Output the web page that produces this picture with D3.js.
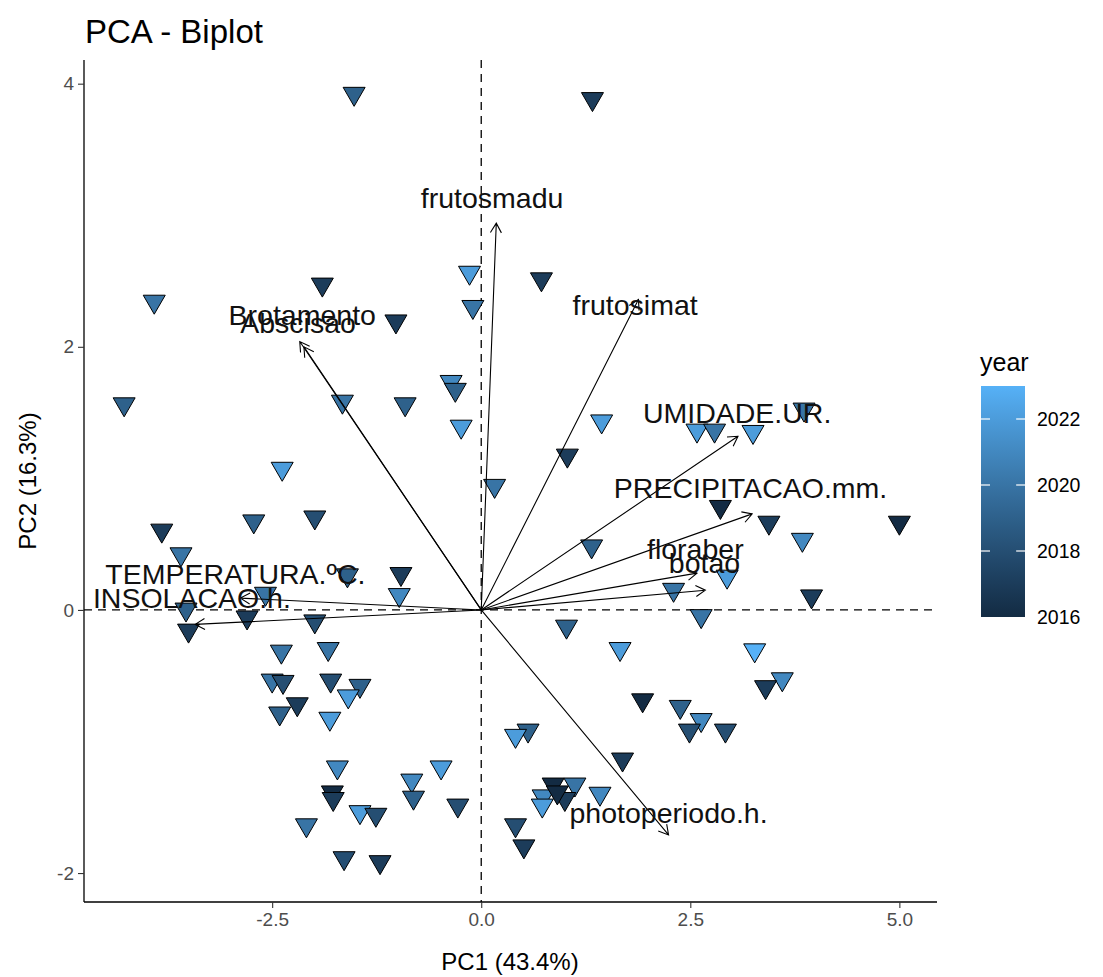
<!DOCTYPE html>
<html>
<head>
<meta charset="utf-8">
<script src="https://cdn.jsdelivr.net/npm/d3@7"></script>
<style>
  body { margin: 0; background: #fff; }
  svg { font-family: "Liberation Sans", Arial, sans-serif; }
</style>
</head>
<body>
<svg id="chart" width="1103" height="977"></svg>
<script>
// individuals: PC1, PC2 and year (colour)
const indPC1 = [-1.52, 1.33, -0.14, 0.72, -1.90, -3.91, -0.10, -1.02, -4.27, -1.66,
  -0.91, -0.36, -0.31, -0.24, 1.44, 1.03, 2.58, 2.79, 3.25, 3.86,
  0.16, -2.38, -3.82, -2.72, -1.99, 2.86, 3.44, 3.84, 5.00, 1.32,
  -3.59, -1.60, -0.96, -0.98, -2.58, -3.53, -3.50, -2.80, -1.99, 2.94,
  2.30, 3.95, 2.63, 1.02, 1.66, 3.27, 3.60, 3.40, -2.39, -1.83,
  -2.50, -2.37, -1.80, -1.45, -1.59, -2.20, -2.41, -1.81, 1.93, 2.38,
  2.63, 2.49, 2.92, 0.56, 0.41, 1.69, -1.72, -1.78, -1.77, -1.45,
  -1.26, -2.09, -0.83, -0.81, -0.48, -0.28, 0.86, 1.12, 0.74, 0.73,
  1.00, 0.91, 1.42, 0.41, 0.51, -1.64, -1.21];
const indPC2 = [3.90, 3.86, 2.54, 2.49, 2.45, 2.32, 2.28, 2.17, 1.54, 1.56,
  1.54, 1.71, 1.65, 1.37, 1.41, 1.15, 1.34, 1.34, 1.33, 1.50,
  0.92, 1.05, 0.58, 0.65, 0.68, 0.76, 0.64, 0.51, 0.64, 0.46,
  0.40, 0.24, 0.25, 0.09, 0.10, -0.02, -0.18, -0.08, -0.11, 0.23,
  0.13, 0.08, -0.07, -0.15, -0.32, -0.33, -0.55, -0.61, -0.34, -0.32,
  -0.56, -0.57, -0.56, -0.60, -0.68, -0.74, -0.81, -0.85, -0.71, -0.76,
  -0.86, -0.94, -0.94, -0.94, -0.98, -1.16, -1.22, -1.41, -1.46, -1.56,
  -1.58, -1.66, -1.32, -1.45, -1.22, -1.51, -1.35, -1.35, -1.44, -1.51,
  -1.46, -1.41, -1.42, -1.66, -1.82, -1.91, -1.94];
const indYear = [2019, 2017, 2022, 2017, 2017, 2020, 2020, 2017, 2019, 2020,
  2019, 2021, 2019, 2022, 2022, 2017, 2022, 2020, 2022, 2020,
  2020, 2022, 2017, 2019, 2018, 2016, 2017, 2021, 2016, 2019,
  2020, 2019, 2017, 2021, 2020, 2019, 2017, 2017, 2018, 2022,
  2020, 2017, 2020, 2019, 2022, 2023, 2021, 2017, 2020, 2020,
  2020, 2018, 2018, 2019, 2022, 2017, 2019, 2022, 2016, 2019,
  2021, 2018, 2018, 2019, 2022, 2017, 2021, 2016, 2017, 2022,
  2018, 2020, 2021, 2019, 2022, 2018, 2016, 2020, 2021, 2022,
  2017, 2016, 2021, 2018, 2017, 2018, 2017];

// variables: arrow ends and label positions
const varNames = ["frutosmadu", "frutosimat", "Brotamento", "Abscisao", "UMIDADE.UR.",
  "PRECIPITACAO.mm.", "floraber", "botao", "TEMPERATURA.ºC.", "INSOLACAO.h.", "photoperiodo.h."];
const varPC1 = [0.18, 1.88, -2.17, -2.12, 3.07, 3.24, 2.58, 2.68, -2.88, -3.42, 2.24];
const varPC2 = [2.94, 2.36, 2.04, 2.00, 1.32, 0.73, 0.28, 0.15, 0.09, -0.11, -1.71];
const labPC1 = [0.13, 1.84, -2.14, -2.19, 3.06, 3.22, 2.56, 2.67, -2.94, -3.46, 2.24];
const labPC2 = [3.13, 2.32, 2.24, 2.18, 1.50, 0.93, 0.46, 0.36, 0.27, 0.09, -1.54];

const xTicks = [-2.5, 0, 2.5, 5];
const yTicks = [-2, 0, 2, 4];
const legendTicks = [2016, 2018, 2020, 2022];

const svg = d3.select("#chart");
const x = d3.scaleLinear().domain([-4.75, 5.45]).range([84, 937]);
const y = d3.scaleLinear().domain([-2.22, 4.18]).range([902, 60]);
const color = d3.scaleLinear().domain([2016, 2023])
  .range(["#132B43", "#56B1F7"]).interpolate(d3.interpolateLab);

// title
svg.append("text").attr("x", 85).attr("y", 43)
  .attr("font-size", 33).attr("fill", "#000").text("PCA - Biplot");

// reference dashed lines
svg.append("line").attr("x1", x(0)).attr("x2", x(0)).attr("y1", 60).attr("y2", 902)
  .attr("stroke", "#000").attr("stroke-width", 1.3).attr("stroke-dasharray", "8,6");
svg.append("line").attr("x1", 84).attr("x2", 937).attr("y1", y(0)).attr("y2", y(0))
  .attr("stroke", "#000").attr("stroke-width", 1.3).attr("stroke-dasharray", "8,6");

// axes (plain hyphen for negatives, like R)
const xAxis = svg.append("g").attr("transform", "translate(0,902)")
  .call(d3.axisBottom(x).tickValues(xTicks).tickFormat(d => d.toFixed(1)).tickSize(6).tickPadding(5));
const yAxis = svg.append("g").attr("transform", "translate(84,0)")
  .call(d3.axisLeft(y).tickValues(yTicks).tickFormat(d => String(d)).tickSize(6).tickPadding(4));
for (const g of [xAxis, yAxis]) {
  g.select(".domain").attr("stroke", "#000").attr("stroke-width", 1.3);
  g.selectAll(".tick line").attr("stroke", "#333").attr("stroke-width", 1.1);
  g.selectAll(".tick text").attr("fill", "#4D4D4D").attr("font-size", 19)
    .attr("font-family", "Liberation Sans, Arial, sans-serif");
}
xAxis.select(".domain").attr("d", "M84,0H937");
yAxis.select(".domain").attr("d", "M0,60V902");

// axis titles
svg.append("text").attr("x", 510).attr("y", 970).attr("text-anchor", "middle")
  .attr("font-size", 24).text("PC1 (43.4%)");
svg.append("text").attr("transform", "translate(36,481) rotate(-90)")
  .attr("text-anchor", "middle").attr("font-size", 24).text("PC2 (16.3%)");

// individuals (filled down-triangles)
const tri = "M-11,-9.5L11,-9.5L0,9.5Z";
svg.append("g").selectAll("path")
  .data(indPC1.map((v, i) => ({ pc1: v, pc2: indPC2[i], year: indYear[i] })))
  .join("path")
  .attr("d", tri)
  .attr("transform", d => `translate(${x(d.pc1)},${y(d.pc2)})`)
  .attr("fill", d => color(d.year))
  .attr("stroke", "#000").attr("stroke-width", 1);

// variable arrows
const vars = varNames.map((n, i) => ({ name: n, px: varPC1[i], py: varPC2[i], lx: labPC1[i], ly: labPC2[i] }));
const arrows = svg.append("g").attr("stroke", "#000").attr("stroke-width", 1.1).attr("fill", "none");
for (const v of vars) {
  const x0 = x(0), y0 = y(0), x1 = x(v.px), y1 = y(v.py);
  const a = Math.atan2(y1 - y0, x1 - x0), L = 11, s = Math.PI / 6;
  arrows.append("path").attr("d",
    `M${x0},${y0}L${x1},${y1}` +
    `M${x1 - L * Math.cos(a - s)},${y1 - L * Math.sin(a - s)}L${x1},${y1}` +
    `L${x1 - L * Math.cos(a + s)},${y1 - L * Math.sin(a + s)}`);
}
svg.append("g").selectAll("text").data(vars).join("text")
  .attr("x", d => x(d.lx)).attr("y", d => y(d.ly))
  .attr("text-anchor", "middle").attr("dominant-baseline", "central")
  .attr("font-size", 28.5).attr("fill", "#111")
  .text(d => d.name);

// legend
const lg = svg.append("g");
const lTop = 386, lBot = 617, lLeft = 981, lW = 44;
const ly = d3.scaleLinear().domain([2016, 2023]).range([lBot, lTop]);
const grad = svg.append("defs").append("linearGradient").attr("id", "yg")
  .attr("x1", 0).attr("x2", 0).attr("y1", 1).attr("y2", 0);
d3.range(0, 1.0001, 0.1).forEach(t => grad.append("stop")
  .attr("offset", t).attr("stop-color", color(2016 + 7 * t)));
lg.append("text").attr("x", 980).attr("y", 371).attr("font-size", 25).text("year");
lg.append("rect").attr("x", lLeft).attr("y", lTop).attr("width", lW).attr("height", lBot - lTop)
  .attr("fill", "url(#yg)");
for (const t of legendTicks) {
  if (t > 2016) {
    lg.append("line").attr("x1", lLeft).attr("x2", lLeft + 9).attr("y1", ly(t)).attr("y2", ly(t))
      .attr("stroke", "#fff").attr("stroke-width", 1.2);
    lg.append("line").attr("x1", lLeft + lW - 9).attr("x2", lLeft + lW).attr("y1", ly(t)).attr("y2", ly(t))
      .attr("stroke", "#fff").attr("stroke-width", 1.2);
  }
  lg.append("text").attr("x", lLeft + lW + 12).attr("y", ly(t)).attr("dominant-baseline", "central")
    .attr("font-size", 19.5).attr("fill", "#000").text(t);
}
</script>
</body>
</html>
